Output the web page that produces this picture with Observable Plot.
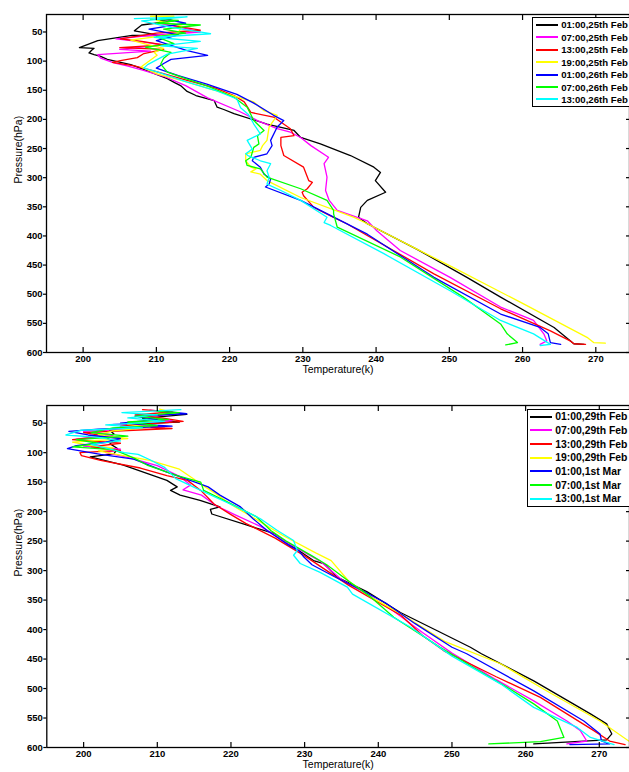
<!DOCTYPE html>
<html><head><meta charset="utf-8">
<script src="https://cdn.jsdelivr.net/npm/d3@7"></script>
<script src="https://cdn.jsdelivr.net/npm/@observablehq/plot@0.6"></script>
<style>
body{margin:0;background:#fff;}
#wrap{position:relative;width:629px;height:772px;overflow:hidden;font-family:"Liberation Sans",Arial,sans-serif;}
#wrap svg{display:block;}
.legend{position:absolute;background:#fff;border:1.5px solid #000;box-sizing:border-box;font-weight:bold;white-space:nowrap;width:130px;}
.row{display:flex;align-items:center;}
.swatch{display:inline-block;height:2px;flex:none;}
</style></head><body><div id="wrap"></div>
<script>
// ---- shared ticks / colours ----
const xTicks = [200, 210, 220, 230, 240, 250, 260, 270];
const yTicks = [50, 100, 150, 200, 250, 300, 350, 400, 450, 500, 550, 600];
const colors = ["#000000", "#ff00ff", "#ff0000", "#ffff00", "#0000ff", "#00ff00", "#00ffff"];
const namesTop = ["01:00,25th Feb", "07:00,25th Feb", "13:00,25th Feb", "19:00,25th Feb", "01:00,26th Feb", "07:00,26th Feb", "13:00,26th Feb"];
const namesBottom = ["01:00,29th Feb", "07:00,29th Feb", "13:00,29th Feb", "19:00,29th Feb", "01:00,1st Mar", "07:00,1st Mar", "13:00,1st Mar"];

// ---- top panel profiles (pressure hPa, temperature K) ----
const a1P = [31,31,38,48,56,56,65,77,78,81,86,89,92,97,106,113,130,137,142,152,159,168,179,183,190,208,219,231,242,262,282,291,305,325,339,351,368,379,423,471,505,557,585,586];
const a1T = [210.5,212.3,208,207,210.5,206.7,202,199.5,201.5,201.2,200.8,201.5,202.4,203.3,206.5,208,211.5,212.5,213.3,214.2,215.4,217.9,218.3,219.2,220.6,225.1,228.8,229.7,232.4,236.5,239.7,240.6,239.9,241.3,238.8,237.9,237.6,238.8,245.6,252.4,257,264.3,267,268.4];
const a2P = [28,35,42,50,56,62,67,72,80,83,89,95,103,108,115,126,142,163,186,202,216,222,231,245,265,276,299,322,339,356,374,391,425,471,522,545,568,580,586];
const a2T = [212,210.5,213.3,216,209,204.5,208,211,205,209.2,202,202.4,204.2,206,208,211,214,217,221.3,223.8,226.5,228.3,229.7,231.1,233.5,232.9,233.3,233.1,233.6,234.7,238.8,240.1,243.3,250.1,257,261.5,262.9,263.3,262.4];
const a3P = [39,47,52,62,66,72,77,80,87,94,99,102,108,118,133,146,159,170,188,196,216,228,231,245,262,282,305,308,319,325,331,351,368,379,465,525,563,580,585,586];
const a3T = [212.4,216,210,205.1,208,211,205,211,208.3,207.4,205.1,204,207,210,214.2,218,220.6,222,222.9,226,228.3,228.8,227,227,227.4,230.1,230.8,231.3,230.6,229.9,230.1,231.5,234.2,236,247.9,257,263.8,266.5,267,268.6];
const a4P = [23,23,30,40,53,64,72,78,85,90,110,122,135,150,170,185,193,202,213,236,245,253,259,271,282,285,290,294,305,334,368,379,421,454,517,574,583,584];
const a4T = [209.2,212.4,210,213.5,212.9,206.5,209,211,209.7,210.1,207.9,210.1,214,218,223.3,224.7,226.5,226,225.4,225.1,224.5,224.2,222.2,222.2,222.9,223.6,222.9,224.2,225.1,229.7,237,238.8,245.3,250.5,260.2,268.8,269.7,271.3];
const a5P = [27,35,45,55,65,82,90,97,104,112,125,140,157,172,193,202,213,236,245,259,265,271,282,294,302,311,316,339,397,471,534,557,568,583,586];
const a5T = [211,214,209,213,210,214.2,217,212,211,210,213,217,221,223.3,226,227.4,226.5,225.6,225.8,225.1,223.3,223.1,224.2,224.7,225.6,225.4,224.9,229.7,238.8,247.9,257,262.4,263.5,263.8,265.2];
const a6P = [28,30,35,38,45,52,58,70,76,85,95,105,119,130,143,162,179,202,219,228,242,248,265,271,279,285,299,319,339,356,362,385,436,505,534,551,568,583,587];
const a6T = [209.2,213,210,216,211,214,210,212.4,208.5,212,211,210.6,211.5,214,217,220.6,222.4,223.3,224.7,223.8,224,223.3,222.9,222.2,222.4,224.2,225.1,229.7,233.3,234.2,234.2,234.7,243.3,251.9,255.1,257,257.9,259.3,257.7];
const a7P = [27,24,31,42,53,59,66,74,78,88,106,112,118,135,150,165,180,192,208,225,236,251,259,262,271,276,288,299,311,322,339,368,377,382,430,494,545,568,586,588];
const a7T = [207,214.2,208,212,217.4,209.7,216,210.6,215.6,211.5,208.8,208.3,210,214,218,221,221.5,222.6,223.3,224.2,222.4,223.1,222.2,222.5,224.2,225.6,225.1,225.4,225.1,227,229.7,233.3,232.9,233.8,241,250.1,257,261.5,263.8,262.4];

// ---- bottom panel profiles ----
const b1P = [30,35,42,48,52,58,62,68,75,80,85,93,102,107,121,147,158,164,172,181,192,196,204,223,237,260,283,288,311,336,371,402,430,441,487,543,560,577,587,594];
const b1T = [210,214,208,213,205,208,203.5,204.1,203,204,203.6,204.6,204.1,200.9,205.4,211.3,212.7,211.8,213.1,215.8,218.5,217.2,217.4,222.2,225.8,228.5,231.2,232.6,234.4,238.5,243,248,252.5,254,261.1,268.8,271,271.7,271,261.1];
const b2P = [28,33,40,46,52,56,60,64,70,77,83,89,94,100,108,122,140,155,163,172,190,205,225,255,283,315,340,368,405,440,485,521,555,571,589,594];
const b2T = [209,213,208,212,204,211,206,200,204,199,203,200,205,203,206,210,213,214.5,213.5,216,218,220.5,224,228,232,235,238.5,242,246,250,256,261.1,265.6,267.4,268.3,265.6];
const b3P = [27,31,36,42,47,55,59,66,72,78,84,90,96,100,105,113,126,139,147,164,187,205,220,245,275,300,325,350,375,410,436,480,515,543,571,589,595];
const b3T = [208,212,207,211,213.5,205,212,200,203,198.5,205,201,205,199.5,199.7,202.3,207.7,211.3,214.1,215.9,217.7,220,222,226,230,233,236,239.5,243,246,248.9,256,262,265.6,269.2,271.4,273.5];
const b4P = [26,33,38,45,52,57,63,70,76,82,88,92,97,104,113,128,145,158,170,188,210,240,270,283,318,345,373,420,458,505,555,589];
const b4T = [210.3,212.5,207.5,210,206,209,204,202,206,198.5,201,204,202,205,209,213,215,216.5,218,220,223,227,231.5,233.6,236,239,243,249,256.6,263,270.1,274];
const b5P = [30,34,38,44,50,55,60,64,70,76,82,88,93,103,111,133,145,158,172,192,212,232,258,266,277,290,310,335,355,390,430,441,504,555,577,589,594,595];
const b5T = [211,214,207,210,205,212,202,198,200.6,205,203,199,197.8,202.3,206.8,211.3,214,216.9,218.5,221.3,223,224.9,228,229.2,229.9,231,234,238,241,245,250,252,261.1,267.9,270.1,270.3,271.4,266];
const b6P = [30,32,38,44,48,54,58,66,72,78,84,90,95,102,110,121,139,150,164,186,209,232,250,275,290,318,345,379,430,465,498,526,555,583,590,594];
const b6T = [210,213,207,211.5,206,210,204,201,206,199,202,198.5,204,205.5,207,208.6,212.7,215.9,216.3,219.9,223.5,225.4,227.5,231,233,236,239,242.1,248.4,253,257.5,261.1,264.3,265.2,262,255];
const b7P = [27,32,36,41,47,53,58,62,70,74,80,86,100,103,112,125,144,164,190,212,232,249,266,274,288,303,328,340,396,445,492,532,566,583,595];
const b7T = [213.2,205.2,210,206,211,203,208,199.6,197.6,202,205,201,205.5,207.4,209,211,212.5,215.9,220.4,224,226.3,228.5,229,228.5,229.4,232.1,235.8,236.5,244.4,250,256.6,261.1,267,268.8,272];

function mk(name, T, P) { return P.map((p, i) => ({series: name, p, t: T[i]})); }
const topData = [[a1T,a1P],[a2T,a2P],[a3T,a3P],[a4T,a4P],[a5T,a5P],[a6T,a6P],[a7T,a7P]].flatMap(([T,P], i) => mk(namesTop[i], T, P));
const botData = [[b1T,b1P],[b2T,b2P],[b3T,b3P],[b4T,b4P],[b5T,b5P],[b6T,b6P],[b7T,b7P]].flatMap(([T,P], i) => mk(namesBottom[i], T, P));

const FONT = "Liberation Sans, Arial, sans-serif";
function chart(names, data, o) {
  return Plot.plot({
    width: 629, height: o.height, marginTop: o.mt, marginBottom: o.mb, marginLeft: o.ml, marginRight: 0,
    style: {fontFamily: FONT, background: "white", color: "black"},
    x: {domain: [195, o.xMax], label: null},
    y: {domain: [20, 600], reverse: true, label: null},
    color: {domain: names, range: colors},
    marks: [
      Plot.line(data, {x: "t", y: "p", z: "series", stroke: "series", strokeWidth: 1.3, clip: true}),
      Plot.frame({stroke: "black", strokeWidth: 1.3}),
      Plot.axisX(xTicks, {anchor: "bottom", tickSize: -5, fill: "none", label: null, strokeWidth: 1.2}),
      Plot.axisX(xTicks, {anchor: "top", tickSize: -5, fill: "none", label: null, strokeWidth: 1.2}),
      Plot.axisX(xTicks, {anchor: "bottom", tickSize: 0, tickPadding: 3, label: null, fontWeight: "bold", fontSize: 9.5}),
      Plot.axisY(yTicks, {anchor: "left", tickSize: 3, fill: "none", label: null, strokeWidth: 1.2}),
      Plot.axisY(yTicks, {anchor: "left", tickSize: 0, tickPadding: 4, label: null, fontWeight: "bold", fontSize: 9.5}),
      Plot.axisY(yTicks, {anchor: "right", tickSize: -4, fill: "none", label: null, strokeWidth: 1.2}),
      Plot.text(["Temperature(k)"], {frameAnchor: "bottom", dy: 20, fontSize: 10.5}),
      Plot.text(["Pressure(hPa)"], {frameAnchor: "left", dx: -28, rotate: -90, fontSize: 10.5})
    ]
  });
}

const wrap = document.getElementById("wrap");
wrap.append(chart(namesTop, topData, {height: 390, mt: 14, mb: 38, ml: 46, xMax: 274.6}));
wrap.append(chart(namesBottom, botData, {height: 382, mt: 15, mb: 25, ml: 46.3, xMax: 274.1}));

function legend(names, o) {
  const box = document.createElement("div");
  box.className = "legend";
  Object.assign(box.style, {left: o.left + "px", top: o.top + "px", paddingTop: o.pad + "px", fontSize: o.fs + "px"});
  names.forEach((n, i) => {
    const row = document.createElement("div");
    row.className = "row";
    row.style.height = o.rowH + "px";
    const sw = document.createElement("span");
    sw.className = "swatch";
    Object.assign(sw.style, {width: o.sw + "px", marginLeft: o.ml + "px", marginRight: o.gap + "px", background: colors[i]});
    const tx = document.createElement("span");
    tx.textContent = n;
    row.append(sw, tx);
    box.append(row);
  });
  wrap.append(box);
}
legend(namesTop, {left: 532, top: 17, pad: 0.6, rowH: 12.45, fs: 9.6, sw: 21.6, ml: 3.2, gap: 3.4});
legend(namesBottom, {left: 526.7, top: 409, pad: 0, rowH: 13.67, fs: 10.4, sw: 21.3, ml: 2.8, gap: 3.4});
</script></body></html>
